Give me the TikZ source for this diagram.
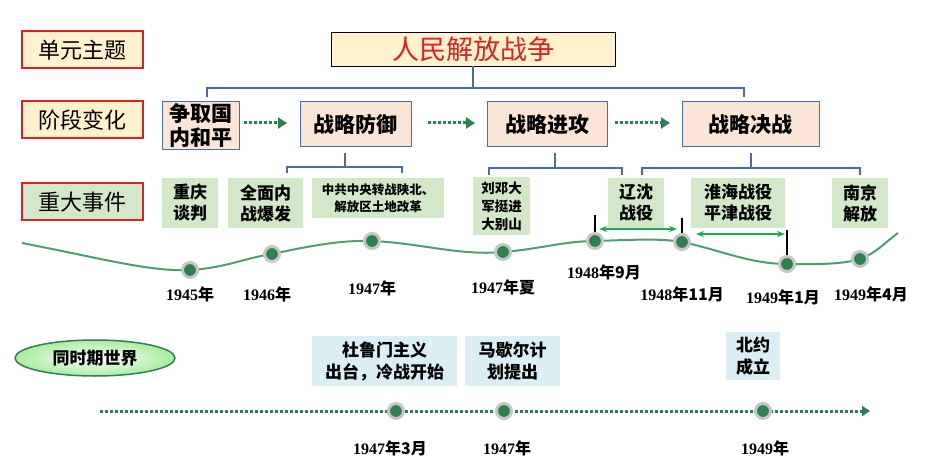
\documentclass[tikz,border=0pt]{standalone}
\usepackage{fontspec}
\setmainfont{Liberation Serif}
\newfontfamily\cjk{Noto Sans CJK SC}
\usetikzlibrary{arrows.meta,shapes.geometric,shadings}
\definecolor{redb}{HTML}{E02020}
\definecolor{ylw}{HTML}{FFF2CC}
\definecolor{peach}{HTML}{FBE5D6}
\definecolor{blu}{HTML}{4A6BA8}
\definecolor{grn}{HTML}{D3E8C8}
\definecolor{cyn}{HTML}{DAEEF3}
\definecolor{dg}{HTML}{2E8050}
\definecolor{wave}{HTML}{4E9E70}
\definecolor{arr}{HTML}{1AAA55}
\newcommand{\dt}[2]{{\bfseries #1}{\cjk\bfseries #2}}
\begin{document}
\begin{tikzpicture}[x=1pt,y=-1pt,
  lab/.style={draw=redb,line width=2pt,fill=ylw,minimum width=121pt,minimum height=37pt,font=\cjk\fontsize{22}{24}\selectfont},
  stage/.style={draw=blu,line width=1pt,fill=peach,font=\cjk\bfseries\fontsize{21}{24}\selectfont,align=center,inner sep=0pt},
  ev/.style={fill=grn,font=\cjk\bfseries\fontsize{17}{21}\selectfont,align=center,inner sep=0pt},
  wd/.style={fill=cyn,font=\cjk\bfseries\fontsize{17}{22}\selectfont,align=center,inner sep=0pt},
  br/.style={draw=blu,line width=1.4pt},
  dot/.style={circle,fill=dg,minimum size=15pt,inner sep=0pt,draw=gray!45,line width=3pt},
  dl/.style={font=\fontsize{16}{18}\selectfont},
  da/.style={dg,line width=3pt,dotted,-{Triangle[length=9pt,width=11pt]}},
  ga/.style={arr,line width=2pt,{Stealth[length=8pt]}-{Stealth[length=8pt]}}]
\useasboundingbox (0,0) rectangle (925,470);
% left labels
\node[lab] (l1) at (82,50) {单元主题};
\node[lab] (l2) at (82,120) {阶段变化};
\node[lab,fill=grn] (l3) at (82,202) {重大事件};
% title
\node[draw=black,fill=ylw,minimum width=284pt,minimum height=34pt,text=redb,font=\cjk\fontsize{27}{29}\selectfont] (t) at (473,49) {人民解放战争};
% stages
\node[stage,minimum width=77pt,minimum height=48pt] (s0) at (200.5,126) {争取国\\内和平};
\node[stage,minimum width=111pt,minimum height=45pt] (s1) at (355.5,124.5) {战略防御};
\node[stage,minimum width=120pt,minimum height=45pt] (s2) at (547,124.5) {战略进攻};
\node[stage,minimum width=137pt,minimum height=45pt] (s3) at (750.5,124.5) {战略决战};
\draw[br] (t.south) -- (473,88) coordinate (b0);
\draw[br] (207,97) -- (207,88) -- (744,88) -- (744,97);
\draw[da] (244,123) coordinate (a0) -- (287,123);
\draw[da] (428,123) coordinate (a1) -- (475,123);
\draw[da] (615,123) coordinate (a2) -- (670,123);
% sub brackets
\draw[br] (345,153) -- (345,167); \draw[br] (287,173) -- (287,167) -- (402,167) -- (402,173);
\draw[br] (555,153) -- (555,168); \draw[br] (489,175) -- (489,168) -- (622,168) -- (622,175);
\draw[br] (751,153) -- (751,168); \draw[br] (642,175) -- (642,168) -- (860,168) -- (860,175);
% events
\node[ev,minimum width=56pt,minimum height=50pt] (e1) at (190,203) {重庆\\谈判};
\node[ev,minimum width=75pt,minimum height=50pt] (e2) at (265.5,203) {全面内\\战爆发};
\node[ev,minimum width=132pt,minimum height=40pt,font=\cjk\bfseries\fontsize{12.5}{17}\selectfont] (e3) at (378,198) {中共中央转战陕北、\\解放区土地改革};
\node[ev,minimum width=57pt,minimum height=58pt,font=\cjk\bfseries\fontsize{13.5}{18}\selectfont] (e4) at (501.5,206) {刘邓大\\军挺进\\大别山};
\node[ev,minimum width=56pt,minimum height=50pt] (e5) at (636,203) {辽沈\\战役};
\node[ev,minimum width=94pt,minimum height=50pt] (e6) at (738,203) {淮海战役\\平津战役};
\node[ev,minimum width=56pt,minimum height=50pt] (e7) at (860,203) {南京\\解放};
% wave
\draw[wave,line width=2pt] (22,243) .. controls (100,258) and (150,272) .. (190,270)
  .. controls (225,268) and (245,258) .. (272,254)
  .. controls (310,246) and (340,240) .. (372,241)
  .. controls (420,243) and (460,256) .. (503,252)
  .. controls (540,249) and (565,241) .. (595,241)
  .. controls (630,240) and (660,238) .. (682,242)
  .. controls (720,250) and (750,264) .. (787,264)
  .. controls (815,264) and (840,265) .. (860,259)
  .. controls (875,254) and (888,240) .. (898,233);
\draw[black,line width=2.5pt] (595,215) -- (595,241);
\draw[black,line width=2.5pt] (682,218) -- (682,242);
\draw[black,line width=2.5pt] (787,230) -- (787,264);
\foreach \n/\x/\y in {d1/190/270,d2/272/254,d3/372/241,d4/503/252,d5/595/241,d6/682/242,d7/787/264,d8/860/259}
  \node[dot] (\n) at (\x,\y) {};
\draw[ga] (599,229) coordinate (g1) -- (677,229);
\draw[ga] (696,234) coordinate (g2) -- (785,234);
\node[dl] at (190,294) {\dt{1945}{年}};
\node[dl] at (267,294) {\dt{1946}{年}};
\node[dl] at (372,288) {\dt{1947}{年}};
\node[dl] at (503,287) {\dt{1947}{年夏}};
\node[dl] at (604,272) {\dt{1948}{年9月}};
\node[dl] at (682,294) {\dt{1948}{年11月}};
\node[dl] at (783,297) {\dt{1949}{年1月}};
\node[dl] at (871,294) {\dt{1949}{年4月}};
% world
\node[ellipse,draw=dg,line width=1.5pt,inner color=white,outer color=grn!80!green,minimum width=160pt,minimum height=36pt,font=\cjk\bfseries\fontsize{17}{20}\selectfont] (w) at (95,358) {同时期世界};
\node[wd,minimum width=145pt,minimum height=50pt] (w1) at (384.5,361) {杜鲁门主义\\出台，冷战开始};
\node[wd,minimum width=95pt,minimum height=50pt] (w2) at (512.5,361) {马歇尔计\\划提出};
\node[wd,minimum width=54pt,minimum height=48pt] (w3) at (753,356) {北约\\成立};
\draw[dg,line width=3pt,dotted,-{Triangle[length=8pt,width=10pt]}] (100,411) coordinate (wl0) -- (870,411);
\node[dot] (v1) at (396,411) {};
\node[dot] (v2) at (504,411) {};
\node[dot] (v3) at (763,411) {};
\node[dl] at (390,448) {\dt{1947}{年3月}};
\node[dl] at (507,448) {\dt{1947}{年}};
\node[dl] at (765,448) {\dt{1949}{年}};
\end{tikzpicture}
\end{document}
